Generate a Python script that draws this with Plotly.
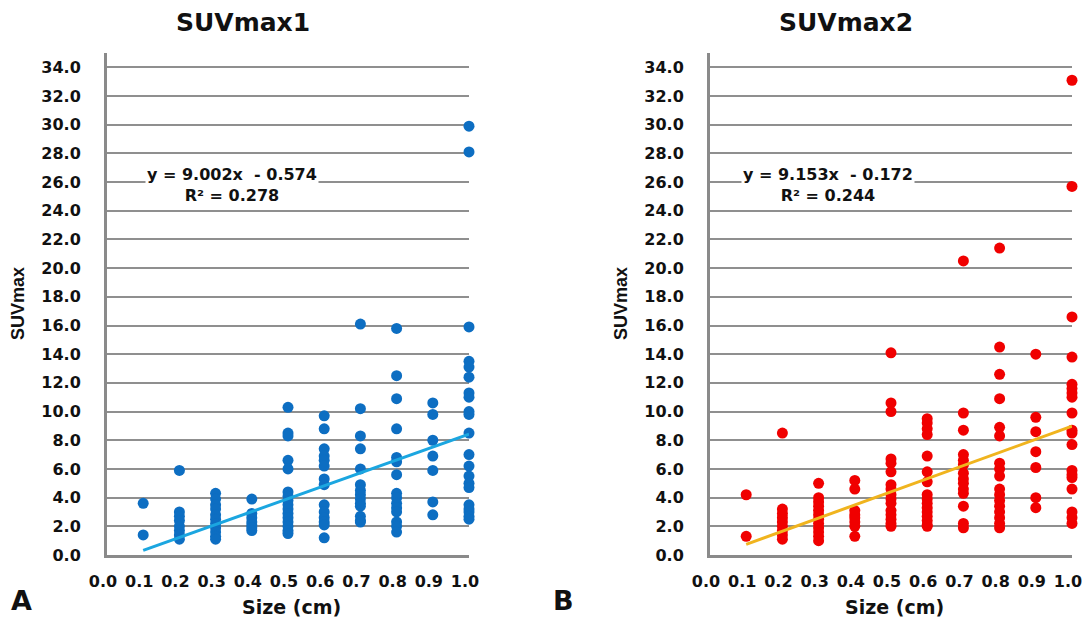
import plotly.graph_objects as go

# ---------------- data ----------------
size_levels = [0.1, 0.2, 0.3, 0.4, 0.5, 0.6, 0.7, 0.8, 0.9, 1.0]

suv1 = {
    0.1: [3.6, 1.4],
    0.2: [5.9, 3.0, 2.7, 2.4, 2.0, 1.7, 1.4, 1.1],
    0.3: [4.3, 3.9, 3.5, 3.2, 2.8, 2.5, 2.2, 1.9, 1.6, 1.3, 1.1],
    0.4: [3.9, 2.9, 2.6, 2.3, 2.1, 1.9, 1.7],
    0.5: [10.3, 8.5, 8.3, 6.6, 6.0, 4.4, 4.1, 3.8, 3.5, 3.2, 2.9, 2.6, 2.3, 2.0, 1.7, 1.5],
    0.6: [9.7, 8.8, 7.4, 6.9, 6.6, 6.2, 5.3, 4.9, 3.5, 3.0, 2.6, 2.3, 2.1, 1.2],
    0.7: [16.1, 10.2, 8.3, 7.4, 6.0, 4.9, 4.5, 4.2, 3.9, 3.6, 3.4, 2.7, 2.4, 2.3],
    0.8: [15.8, 12.5, 10.9, 8.8, 6.8, 6.5, 5.6, 4.3, 4.0, 3.6, 3.3, 3.0, 2.3, 2.0, 1.6],
    0.9: [10.6, 9.8, 8.0, 6.9, 5.9, 3.7, 2.8],
    1.0: [29.9, 28.1, 15.9, 13.5, 13.1, 12.4, 11.3, 11.0, 10.0, 9.8, 8.5, 7.0, 6.2,
          5.5, 5.0, 4.7, 3.5, 3.2, 3.0, 2.7, 2.5],
}

suv2 = {
    0.1: [4.2, 1.3],
    0.2: [8.5, 3.2, 2.9, 2.6, 2.3, 2.0, 1.7, 1.4, 1.1],
    0.3: [5.0, 4.0, 3.7, 3.4, 3.1, 2.8, 2.5, 2.2, 1.9, 1.6, 1.3, 1.0],
    0.4: [5.2, 4.6, 3.1, 2.8, 2.6, 2.3, 2.0, 1.3],
    0.5: [14.1, 10.6, 10.0, 6.7, 6.4, 5.8, 4.9, 4.6, 4.2, 3.9, 3.6, 3.1, 2.8, 2.5, 2.2, 2.0],
    0.6: [9.5, 9.2, 8.8, 8.4, 6.9, 5.8, 5.1, 4.2, 3.9, 3.6, 3.3, 3.0, 2.7, 2.4, 2.1, 2.0],
    0.7: [20.5, 9.9, 8.7, 7.0, 6.6, 6.3, 5.7, 5.3, 5.0, 4.6, 4.3, 3.4, 2.2, 1.9],
    0.8: [21.4, 14.5, 12.6, 10.9, 8.9, 8.3, 6.4, 6.0, 5.5, 4.6, 4.2, 3.8, 3.4, 3.0, 2.6, 2.2, 1.9],
    0.9: [14.0, 9.6, 8.6, 7.2, 6.1, 4.0, 3.3],
    1.0: [33.1, 25.7, 16.6, 13.8, 11.9, 11.6, 11.3, 11.0, 9.9, 8.7, 8.5, 7.7, 5.9,
          5.6, 5.4, 4.6, 3.0, 2.6, 2.2],
}

fit1 = {"slope": 9.002, "intercept": -0.574, "r2": 0.278}
fit2 = {"slope": 9.153, "intercept": -0.172, "r2": 0.244}

x_ticks = [0.0, 0.1, 0.2, 0.3, 0.4, 0.5, 0.6, 0.7, 0.8, 0.9, 1.0]
titles = ["SUVmax1", "SUVmax2"]
panel_letters = ["A", "B"]

# ---------------- style ----------------
FONT = "DejaVu Sans"
GRID = "#8f8f8f"
AXLINE = "#8a8a8a"
marker_colors = ["#0D6EC2", "#F00000"]
line_colors = ["#1BA6E0", "#F0B41E"]

# body margin is removed by the post script, so the figure fills the window
W, H = 1083, 622


def px(x):
    return x / W


def py(y):
    return 1 - y / H


xdom = [[px(107), px(469)], [px(710), px(1072)]]
ydom = [py(555), py(53)]


def flatten(d):
    xs, ys = [], []
    for k in size_levels:
        for v in d[k]:
            xs.append(k)
            ys.append(v)
    return xs, ys


fig = go.Figure()

for i, (data, fit) in enumerate([(suv1, fit1), (suv2, fit2)]):
    ax = "" if i == 0 else "2"
    xs, ys = flatten(data)
    fig.add_trace(go.Scatter(
        x=xs, y=ys, mode="markers",
        marker=dict(color=marker_colors[i], size=11, line=dict(width=0)),
        xaxis="x" + ax, yaxis="y" + ax, cliponaxis=False, showlegend=False))
    lx = [size_levels[0], size_levels[-1]]
    ly = [fit["slope"] * v + fit["intercept"] for v in lx]
    fig.add_trace(go.Scatter(
        x=lx, y=ly, mode="lines",
        line=dict(color=line_colors[i], width=3),
        xaxis="x" + ax, yaxis="y" + ax, showlegend=False))

tickfont = dict(family=FONT, size=16, color="#111111", weight="bold")
axis_common_x = dict(
    range=[0, 1.0], tickvals=x_ticks, tickformat=".1f", automargin=False,
    showgrid=False, zeroline=False, showline=True, linecolor=AXLINE, linewidth=3,
    ticks="", ticklabelstandoff=10, ticklabelshift=-4, ticklabeloverflow="allow",
    tickfont=tickfont,
)
axis_common_y = dict(
    range=[0, 35], dtick=2, tick0=0, tickformat=".1f", automargin=False,
    showgrid=True, gridcolor=GRID, gridwidth=2, zeroline=False,
    showline=True, linecolor=AXLINE, linewidth=3,
    ticks="", ticklabelstandoff=20, ticklabeloverflow="allow", tickfont=tickfont,
)

fig.update_layout(
    width=W, height=H, margin=dict(l=0, r=0, t=0, b=0, autoexpand=False),
    paper_bgcolor="white", plot_bgcolor="white",
    xaxis=dict(domain=xdom[0], anchor="y", **axis_common_x),
    xaxis2=dict(domain=xdom[1], anchor="y2", **axis_common_x),
    yaxis=dict(domain=ydom, anchor="x", **axis_common_y),
    yaxis2=dict(domain=ydom, anchor="x2", **axis_common_y),
)

ann = []
title_x = [243, 846]
letter_x = [21, 563]
eq_x = [0.345, 0.327]
for i, fit in enumerate([fit1, fit2]):
    ax = "" if i == 0 else "2"
    off = 0 if i == 0 else 603
    common = dict(xref="paper", yref="paper", showarrow=False,
                  xanchor="center", yanchor="middle")
    ann.append(dict(text="<b>%s</b>" % titles[i], x=px(title_x[i]), y=py(23),
                    font=dict(family=FONT, size=25, color="#111111"), **common))
    ann.append(dict(text="<b>Size (cm)</b>", x=px(291 + off), y=py(607),
                    font=dict(family=FONT, size=19, color="#111111"), **common))
    ann.append(dict(text="<b>SUVmax</b>", x=px(18 + off), y=py(304), textangle=-90,
                    font=dict(family="Liberation Sans", size=18, color="#111111"), **common))
    ann.append(dict(text="<b>%s</b>" % panel_letters[i], x=px(letter_x[i]), y=py(600),
                    font=dict(family=FONT, size=27, color="#111111"), **common))
    sign = "-" if fit["intercept"] < 0 else "+"
    eq = "<b>y = %.3fx  %s %.3f<br>R² = %.3f</b>" % (fit["slope"], sign, abs(fit["intercept"]), fit["r2"])
    ann.append(dict(text=eq, x=eq_x[i], y=25.8, xref="x" + ax, yref="y" + ax,
                    xanchor="center", yanchor="middle",
                    showarrow=False, bgcolor="white", borderpad=1,
                    font=dict(family=FONT, size=16, color="#111111")))

fig.update_layout(annotations=ann)
fig.write_html(
    "out.html",
    config={"displayModeBar": False},
    post_script="document.body.style.margin='0';document.body.style.overflow='hidden';",
)
